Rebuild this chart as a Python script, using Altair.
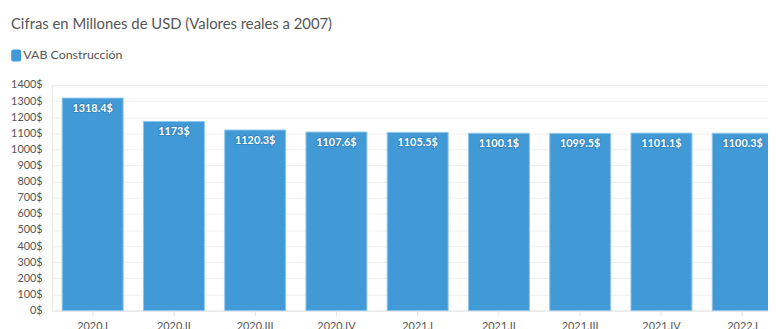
import altair as alt
import pandas as pd

quarters = ["2020.I", "2020.II", "2020.III", "2020.IV", "2021.I",
            "2021.II", "2021.III", "2021.IV", "2022.I"]
values = [1318.4, 1173.0, 1120.3, 1107.6, 1105.5, 1100.1, 1099.5, 1101.1, 1100.3]
series = "VAB Construcción"
y_ticks = list(range(0, 1500, 100))

df = pd.DataFrame({
    "q": quarters,
    "v": values,
    "s": [series] * len(quarters),
    "lab": [f"{v:g}$" for v in values],
})

FONT = "Lato"
GRAY = "#555555"
ROUND_RECT = ("M-0.5,-1 H0.5 Q0.83,-1 0.83,-0.67 V0.67 Q0.83,1 0.5,1 "
              "H-0.5 Q-0.83,1 -0.83,0.67 V-0.67 Q-0.83,-1 -0.5,-1 Z")

x = alt.X("q:N", sort=quarters, title=None,
          scale=alt.Scale(paddingInner=0.25, paddingOuter=0.125, range=[0, 739]),
          axis=alt.Axis(labelAngle=0, labelFontSize=11, labelColor=GRAY,
                        domainColor="#e3e3e3", tickColor="#e3e3e3", tickSize=5,
                        labelPadding=5, grid=False, labelFont=FONT))
y = alt.Y("v:Q", title=None,
          scale=alt.Scale(domain=[0, 1400], nice=False),
          axis=alt.Axis(values=y_ticks, labelExpr="datum.value + '$'",
                        labelFontSize=11, labelColor=GRAY, labelFont=FONT,
                        labelOverlap=False, labelBound=False,
                        ticks=False, labelPadding=10, domainColor="#e8e8e8",
                        gridColor="#efefef"))

base = alt.Chart(df).encode(x=x, y=y)

bars = base.mark_bar(stroke="#8fc5ec", strokeWidth=1).encode(
    color=alt.Color("s:N", title=None,
                    scale=alt.Scale(range=["#4199d5"]),
                    legend=alt.Legend(orient="none", legendX=-42.5, legendY=-36,
                                      symbolType=ROUND_RECT, symbolSize=144,
                                      symbolStrokeWidth=0, labelFontSize=12.5,
                                      labelColor=GRAY, labelFont=FONT,
                                      labelOffset=1, padding=0)),
)

halo = base.mark_text(baseline="alphabetic", dy=14, fontSize=11, fontWeight="bold",
                      font=FONT, color="#1d6aa3", stroke="#1d6aa3",
                      strokeWidth=2, opacity=0.35).encode(text="lab:N")

labels = base.mark_text(baseline="alphabetic", dy=14, fontSize=11, fontWeight="bold",
                        font=FONT, color="white").encode(text="lab:N")

chart = alt.layer(bars, halo, labels).properties(
    width=723.5, height=228,
    title=alt.TitleParams("Cifras en Millones de USD (Valores reales a 2007)",
                          anchor="start", frame="group", dx=-41.5, dy=-13.5,
                          fontSize=15, fontWeight="normal", color=GRAY, font=FONT),
    autosize=alt.AutoSizeParams(type="none"),
    padding={"left": 44.5, "top": 76, "right": 0, "bottom": 30},
).configure_view(stroke=None)

chart.save("out.html", embed_options={"renderer": "svg", "actions": False})
